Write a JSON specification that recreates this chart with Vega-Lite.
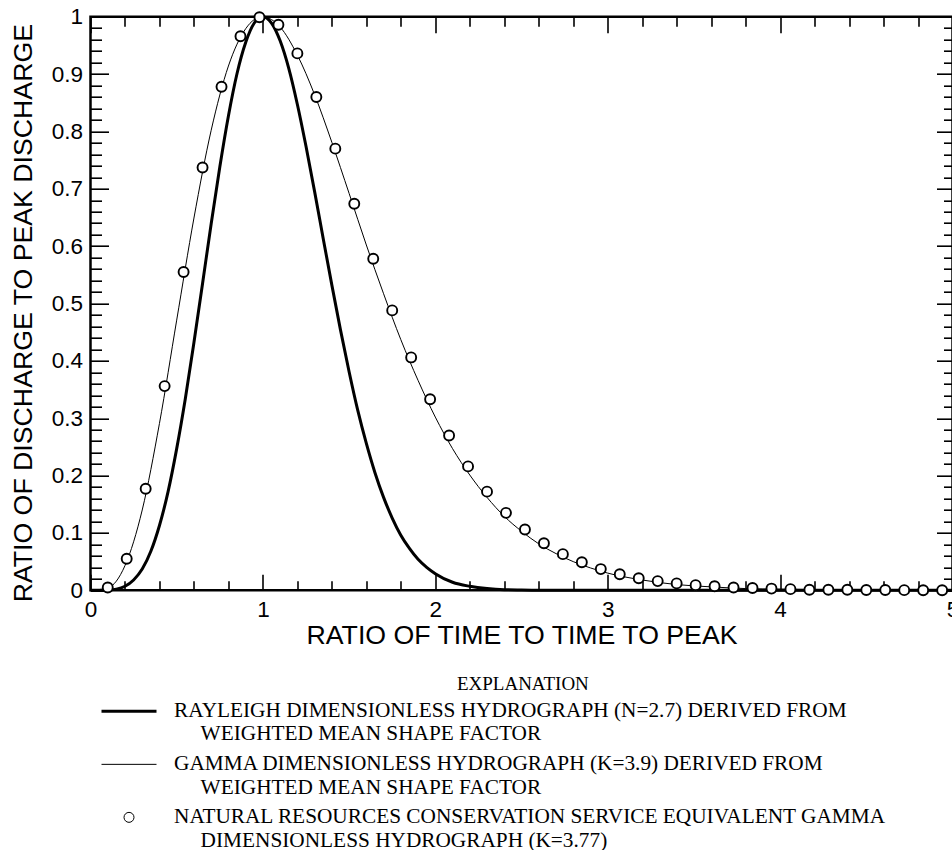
{
  "$schema": "https://vega.github.io/schema/vega-lite/v6.json",
  "width": 862,
  "height": 573.6,
  "autosize": "none",
  "padding": {"left": 90.5, "top": 16.7, "right": 0, "bottom": 259.7},
  "background": "white",
  "datasets": {
    "rayleigh": [
      {"t": 0, "q": 0}, {"t": 0.05, "q": 0}, {"t": 0.1, "q": 0.0004}, {"t": 0.15, "q": 0.002},
      {"t": 0.2, "q": 0.007}, {"t": 0.25, "q": 0.018}, {"t": 0.3, "q": 0.037}, {"t": 0.35, "q": 0.068},
      {"t": 0.4, "q": 0.113}, {"t": 0.45, "q": 0.172}, {"t": 0.5, "q": 0.247}, {"t": 0.55, "q": 0.334},
      {"t": 0.6, "q": 0.432}, {"t": 0.65, "q": 0.535}, {"t": 0.7, "q": 0.639}, {"t": 0.75, "q": 0.738},
      {"t": 0.8, "q": 0.827}, {"t": 0.85, "q": 0.901}, {"t": 0.9, "q": 0.955}, {"t": 0.95, "q": 0.989},
      {"t": 1.0, "q": 1.0}, {"t": 1.05, "q": 0.989}, {"t": 1.1, "q": 0.958}, {"t": 1.15, "q": 0.91},
      {"t": 1.2, "q": 0.847}, {"t": 1.25, "q": 0.774}, {"t": 1.3, "q": 0.695}, {"t": 1.35, "q": 0.613},
      {"t": 1.4, "q": 0.532}, {"t": 1.45, "q": 0.454}, {"t": 1.5, "q": 0.381}, {"t": 1.55, "q": 0.314},
      {"t": 1.6, "q": 0.256}, {"t": 1.65, "q": 0.205}, {"t": 1.7, "q": 0.162}, {"t": 1.75, "q": 0.126},
      {"t": 1.8, "q": 0.096}, {"t": 1.85, "q": 0.073}, {"t": 1.9, "q": 0.054}, {"t": 1.95, "q": 0.04},
      {"t": 2.0, "q": 0.029}, {"t": 2.1, "q": 0.014}, {"t": 2.2, "q": 0.007}, {"t": 2.3, "q": 0.003},
      {"t": 2.4, "q": 0.001}, {"t": 2.5, "q": 0.0005}, {"t": 2.6, "q": 0.0002}, {"t": 2.8, "q": 0},
      {"t": 3.0, "q": 0}, {"t": 3.5, "q": 0}, {"t": 4.0, "q": 0}, {"t": 4.5, "q": 0}, {"t": 5.0, "q": 0}
    ],
    "gamma": [
      {"t": 0, "q": 0}, {"t": 0.1, "q": 0.004}, {"t": 0.2, "q": 0.043}, {"t": 0.3, "q": 0.14},
      {"t": 0.4, "q": 0.291}, {"t": 0.5, "q": 0.471}, {"t": 0.6, "q": 0.649}, {"t": 0.7, "q": 0.802},
      {"t": 0.8, "q": 0.914}, {"t": 0.9, "q": 0.979}, {"t": 0.95, "q": 0.995}, {"t": 1.0, "q": 1.0},
      {"t": 1.05, "q": 0.995}, {"t": 1.1, "q": 0.982}, {"t": 1.2, "q": 0.933}, {"t": 1.3, "q": 0.864},
      {"t": 1.4, "q": 0.781}, {"t": 1.5, "q": 0.692}, {"t": 1.6, "q": 0.602}, {"t": 1.7, "q": 0.517},
      {"t": 1.8, "q": 0.437}, {"t": 1.9, "q": 0.366}, {"t": 2.0, "q": 0.302}, {"t": 2.1, "q": 0.247},
      {"t": 2.2, "q": 0.201}, {"t": 2.3, "q": 0.162}, {"t": 2.4, "q": 0.129}, {"t": 2.5, "q": 0.103},
      {"t": 2.6, "q": 0.081}, {"t": 2.7, "q": 0.064}, {"t": 2.8, "q": 0.05}, {"t": 2.9, "q": 0.039},
      {"t": 3.0, "q": 0.03}, {"t": 3.2, "q": 0.018}, {"t": 3.4, "q": 0.01}, {"t": 3.6, "q": 0.006},
      {"t": 3.8, "q": 0.003}, {"t": 4.0, "q": 0.002}, {"t": 4.5, "q": 0.0004}, {"t": 5.0, "q": 0.0001}
    ],
    "nrcs": [
      {"t": 0.10, "q": 0.005}, {"t": 0.21, "q": 0.055}, {"t": 0.32, "q": 0.177}, {"t": 0.43, "q": 0.356},
      {"t": 0.54, "q": 0.555}, {"t": 0.65, "q": 0.737}, {"t": 0.76, "q": 0.878}, {"t": 0.87, "q": 0.966},
      {"t": 0.98, "q": 0.999}, {"t": 1.09, "q": 0.986}, {"t": 1.20, "q": 0.936}, {"t": 1.31, "q": 0.86},
      {"t": 1.42, "q": 0.77}, {"t": 1.53, "q": 0.674}, {"t": 1.64, "q": 0.578}, {"t": 1.75, "q": 0.488},
      {"t": 1.86, "q": 0.406}, {"t": 1.97, "q": 0.333}, {"t": 2.08, "q": 0.27}, {"t": 2.19, "q": 0.216},
      {"t": 2.30, "q": 0.172}, {"t": 2.41, "q": 0.135}, {"t": 2.52, "q": 0.106}, {"t": 2.63, "q": 0.082},
      {"t": 2.74, "q": 0.063}, {"t": 2.85, "q": 0.049}, {"t": 2.96, "q": 0.037}, {"t": 3.07, "q": 0.028},
      {"t": 3.18, "q": 0.021}, {"t": 3.29, "q": 0.016}, {"t": 3.40, "q": 0.012}, {"t": 3.51, "q": 0.009},
      {"t": 3.62, "q": 0.007}, {"t": 3.73, "q": 0.005}, {"t": 3.84, "q": 0.004}, {"t": 3.95, "q": 0.003},
      {"t": 4.06, "q": 0.002}, {"t": 4.17, "q": 0.001}, {"t": 4.28, "q": 0.001}, {"t": 4.39, "q": 0.001},
      {"t": 4.50, "q": 0.0005}, {"t": 4.61, "q": 0.0004}, {"t": 4.72, "q": 0.0003}, {"t": 4.83, "q": 0.0002},
      {"t": 4.94, "q": 0.0001}
    ]
  },
  "layer": [
    {
      "data": {"name": "rayleigh"},
      "mark": {"type": "line", "interpolate": "monotone"},
      "encoding": {
        "x": {"field": "t", "type": "quantitative", "scale": {"domain": [0, 5], "nice": false, "zero": false},
          "axis": {"orient": "top", "title": null, "labels": false,
            "values": [0,0.2,0.4,0.6,0.8,1,1.2,1.4,1.6,1.8,2,2.2,2.4,2.6,2.8,3,3.2,3.4,3.6,3.8,4,4.2,4.4,4.6,4.8,5],
            "tickSize": {"condition": {"test": "datum.value % 1 === 0", "value": -16}, "value": -9.5}}},
        "y": {"field": "q", "type": "quantitative", "scale": {"domain": [0, 1], "nice": false},
          "axis": {"orient": "right", "title": null, "labels": false,
            "values": [0,0.02,0.04,0.06,0.08,0.1,0.12,0.14,0.16,0.18,0.2,0.22,0.24,0.26,0.28,0.3,0.32,0.34,0.36,0.38,0.4,0.42,0.44,0.46,0.48,0.5,0.52,0.54,0.56,0.58,0.6,0.62,0.64,0.66,0.68,0.7,0.72,0.74,0.76,0.78,0.8,0.82,0.84,0.86,0.88,0.9,0.92,0.94,0.96,0.98,1],
            "tickSize": {"condition": {"test": "round(datum.value * 100) % 10 === 0", "value": -16}, "value": -9}}},
        "color": {"datum": "RAYLEIGH", "type": "nominal",
          "scale": {"domain": ["RAYLEIGH", "GAMMA", "NRCS"], "range": ["black", "black", "black"]},
          "legend": {
            "orient": "none", "legendX": 27, "legendY": 658,
            "title": "\u200b\u00a0\u00a0\u00a0\u00a0\u00a0\u00a0\u00a0\u00a0\u00a0EXPLANATION",
            "labelExpr": "datum.value === 'RAYLEIGH' ? ['RAYLEIGH DIMENSIONLESS HYDROGRAPH (N=2.7) DERIVED FROM', '\u200b\u00a0\u00a0\u00a0\u00a0\u00a0WEIGHTED MEAN SHAPE FACTOR'] : datum.value === 'GAMMA' ? ['GAMMA DIMENSIONLESS HYDROGRAPH (K=3.9) DERIVED FROM', '\u200b\u00a0\u00a0\u00a0\u00a0\u00a0WEIGHTED MEAN SHAPE FACTOR'] : ['NATURAL RESOURCES CONSERVATION SERVICE EQUIVALENT GAMMA', '\u200b\u00a0\u00a0\u00a0\u00a0\u00a0DIMENSIONLESS HYDROGRAPH (K=3.77)']"
          }
        },
        "strokeWidth": {"datum": "RAYLEIGH", "type": "nominal",
          "scale": {"type": "point", "padding": 0, "domain": ["RAYLEIGH", "GAMMA", "NRCS"], "range": [3, -1]}}
      }
    },
    {
      "data": {"name": "gamma"},
      "mark": {"type": "line", "interpolate": "monotone"},
      "encoding": {
        "x": {"field": "t", "type": "quantitative",
          "axis": {"orient": "bottom", "title": "RATIO OF TIME TO TIME TO PEAK",
            "values": [0,0.2,0.4,0.6,0.8,1,1.2,1.4,1.6,1.8,2,2.2,2.4,2.6,2.8,3,3.2,3.4,3.6,3.8,4,4.2,4.4,4.6,4.8,5],
            "tickSize": {"condition": {"test": "datum.value % 1 === 0", "value": -16}, "value": -9.5},
            "labelExpr": "datum.value % 1 === 0 ? format(datum.value, 'd') : ''",
            "labelFlush": false, "labelPadding": 24, "titlePadding": 2}},
        "y": {"field": "q", "type": "quantitative",
          "axis": {"orient": "left", "title": "RATIO OF DISCHARGE TO PEAK DISCHARGE",
            "values": [0,0.02,0.04,0.06,0.08,0.1,0.12,0.14,0.16,0.18,0.2,0.22,0.24,0.26,0.28,0.3,0.32,0.34,0.36,0.38,0.4,0.42,0.44,0.46,0.48,0.5,0.52,0.54,0.56,0.58,0.6,0.62,0.64,0.66,0.68,0.7,0.72,0.74,0.76,0.78,0.8,0.82,0.84,0.86,0.88,0.9,0.92,0.94,0.96,0.98,1],
            "tickSize": {"condition": {"test": "round(datum.value * 100) % 10 === 0", "value": -18}, "value": -11},
            "labelExpr": "round(datum.value * 100) % 10 === 0 ? format(datum.value, '~g') : ''",
            "labelPadding": 26, "titleX": -52.8, "titleY": 296, "titleBaseline": "bottom"}},
        "color": {"datum": "GAMMA", "type": "nominal"},
        "strokeWidth": {"datum": "GAMMA", "type": "nominal"}
      }
    },
    {
      "data": {"name": "nrcs"},
      "mark": {"type": "point", "filled": false, "fill": "white", "fillOpacity": 1, "opacity": 1, "strokeWidth": 1.9, "size": 400},
      "encoding": {
        "x": {"field": "t", "type": "quantitative", "axis": null},
        "y": {"field": "q", "type": "quantitative", "axis": null},
        "color": {"datum": "NRCS", "type": "nominal"},
        "shape": {"datum": "NRCS", "type": "nominal",
          "scale": {"domain": ["RAYLEIGH", "GAMMA", "NRCS"],
            "range": ["M-2.75,0L2.75,0", "M-2.75,0L2.75,0", "M0.5,0A0.5,0.5 0 1,1 -0.5,0A0.5,0.5 0 1,1 0.5,0Z"]}}
      }
    }
  ],
  "resolve": {"axis": {"x": "independent", "y": "independent"}},
  "config": {
    "view": {"stroke": "black", "strokeWidth": 2.5},
    "axis": {
      "domain": false, "grid": false, "tickColor": "black", "tickWidth": 1.6,
      "labelFont": "Liberation Sans", "labelFontSize": 22.5, "labelColor": "black",
      "titleFont": "Liberation Sans", "titleFontSize": 26.7, "titleFontWeight": "normal", "titleColor": "black"
    },
    "legend": {
      "titleFont": "Liberation Serif", "titleFontSize": 19, "titleFontWeight": "normal", "titleColor": "black",
      "titleAnchor": "middle", "titlePadding": 6, "titleLimit": 2000,
      "labelFont": "Liberation Serif", "labelFontSize": 21.3, "labelColor": "black", "labelLimit": 2000,
      "labelOffset": 33.5, "labelBaseline": "middle", "rowPadding": 7,
      "symbolSize": 400, "symbolStrokeColor": "black", "symbolOpacity": 1
    }
  }
}
